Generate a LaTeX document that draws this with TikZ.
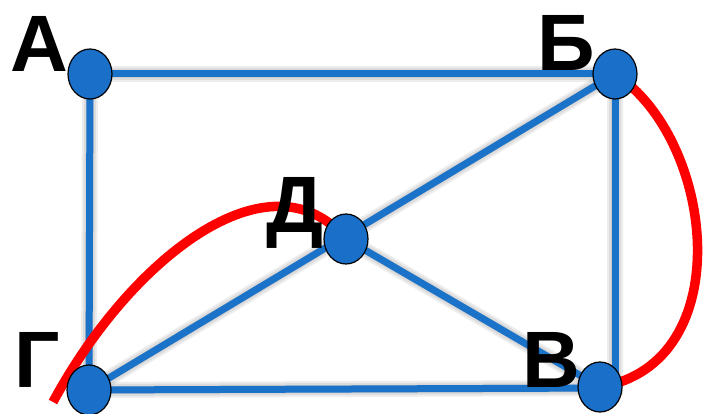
\documentclass[tikz,border=0pt]{standalone}
\usepackage{fontspec}
\setmainfont{Liberation Sans}
\begin{document}
\begin{tikzpicture}[x=1pt,y=1pt,
  edge/.style={draw=edgeblue,line width=7pt},
  shadowline/.style={draw=black,opacity=0.07},
  redline/.style={draw=red,line width=9.5pt},
  vertex/.style={ellipse,draw=black,line width=1.2pt,fill=nodeblue,minimum width=44pt,minimum height=50pt,inner sep=0pt},
  lbl/.style={font=\fontsize{80}{80}\selectfont\bfseries,anchor=base,inner sep=0pt}]
\definecolor{edgeblue}{HTML}{1A72C9}
\definecolor{nodeblue}{HTML}{1A6FC8}
\usetikzlibrary{shapes.geometric}
\useasboundingbox (0,0) rectangle (706,414);
\path (90,340) coordinate (pA) (615,340) coordinate (pB) (346,175) coordinate (pD)
      (89,24) coordinate (pG) (600,27) coordinate (pV) (615,26) coordinate (pC);
% shadows
\foreach \w in {8,12,16}{
\begin{scope}[shift={(-5,5)}]
\draw[shadowline,line width=\w pt] (pA) -- (pB) -- (pC) -- (pG) -- cycle;
\draw[shadowline,line width=\w pt] (pG) -- (pB);
\draw[shadowline,line width=\w pt] (pD) -- (pV);
\end{scope}}
% blue edges
\draw[edge] (pA) -- (pB);
\draw[edge] (pA) -- (pG);
\draw[edge] (pB) -- (pC);
\draw[edge] (pG) -- (pC);
\draw[edge] (pG) -- (pB);
\draw[edge] (pD) -- (pV);
% red curves
\coordinate (r0) at (53,12);
\draw[redline] (r0) .. controls (130,155) and (270,265) .. (pD);
\draw[redline] (pB) .. controls (715,275) and (740,50) .. (pV);
% nodes
\node[vertex] (A) at (pA) {};
\node[vertex] (B) at (pB) {};
\node[vertex] (D) at (pD) {};
\node[vertex] (G) at (pG) {};
\node[vertex] (V) at (pV) {};
% labels
\node[lbl] (lA) at (39,342) {А};
\node[lbl] (lB) at (566,343) {Б};
\node[lbl] (lD) at (295,181) {Д};
\node[lbl] (lG) at (37,26) {Г};
\node[lbl] (lV) at (551,26) {В};
\end{tikzpicture}
\end{document}
